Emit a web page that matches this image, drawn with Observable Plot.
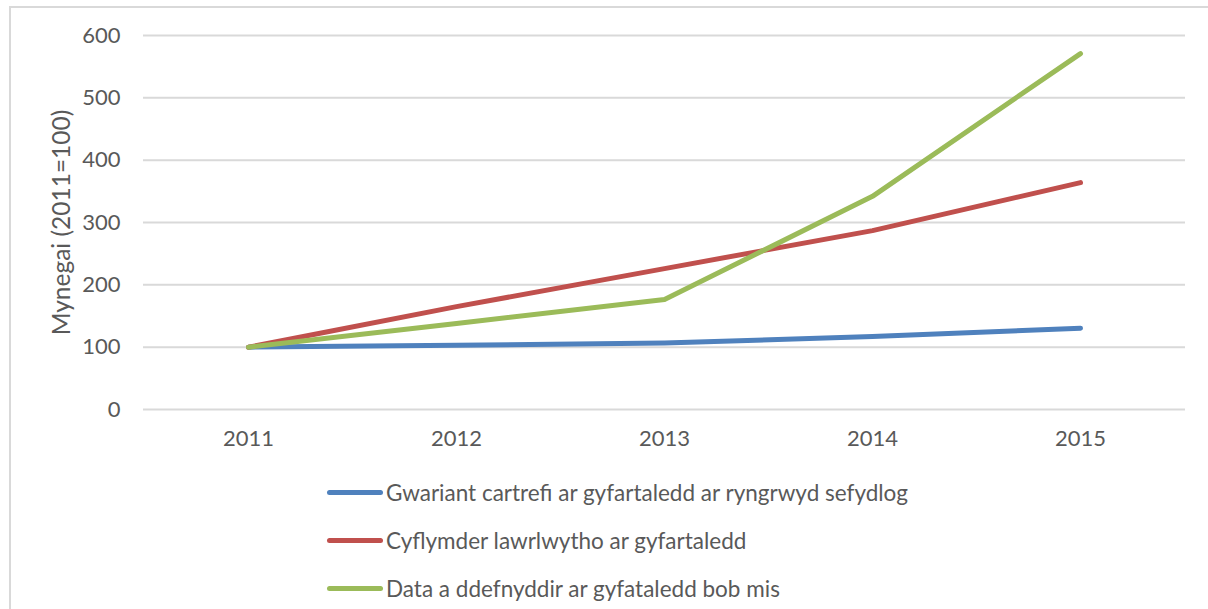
<!DOCTYPE html>
<html>
<head>
<meta charset="utf-8">
<script src="https://cdn.jsdelivr.net/npm/d3@7"></script>
<script src="https://cdn.jsdelivr.net/npm/@observablehq/plot@0.6"></script>
<style>
  html, body { margin: 0; padding: 0; background: #fff; }
  body { width: 1208px; height: 609px; position: relative; overflow: hidden; font-family: Lato, "Open Sans", sans-serif; color: #595959; }
  #frame { position: absolute; left: 9px; top: 6px; right: -5px; bottom: -5px; border-top: 2px solid #D9D9D9; border-left: 2px solid #D9D9D9; }
  #chart { position: absolute; left: 0; top: 0; }
  .leg { position: absolute; left: 327px; height: 26px; display: flex; align-items: center; font-size: 22.5px; white-space: nowrap; }
  .leg .sw { width: 56px; height: 5px; border-radius: 3px; margin-right: 3px; }
</style>
</head>
<body>
<div id="frame"></div>
<div id="chart"></div>
<div id="legend"></div>
<script>
const years = [2011, 2012, 2013, 2014, 2015];
const seriesNames = [
  "Gwariant cartrefi ar gyfartaledd ar ryngrwyd sefydlog",
  "Cyflymder lawrlwytho ar gyfartaledd",
  "Data a ddefnyddir ar gyfataledd bob mis"
];
const spending = [100, 103, 106.5, 117, 130.5];
const downloadSpeed = [100, 165, 226, 287, 364];
const dataUsed = [100, 138, 176.5, 342, 571];
const colors = ["#4F81BD", "#C0504D", "#9BBB59"];
const yTicks = [0, 100, 200, 300, 400, 500, 600];
const yLabel = "Mynegai (2011=100)";

const seriesValues = [spending, downloadSpeed, dataUsed];
const rows = [];
seriesNames.forEach((name, i) => {
  years.forEach((yr, j) => rows.push({series: name, year: yr, value: seriesValues[i][j]}));
});

const chart = Plot.plot({
  width: 1208,
  height: 460,
  marginLeft: 143,
  marginRight: 23,
  marginTop: 35,
  marginBottom: 51,
  style: {fontFamily: "Lato, 'Open Sans', sans-serif", color: "#595959", background: "transparent"},
  x: {type: "point", domain: years, padding: 0.5},
  y: {domain: [0, 600]},
  color: {domain: seriesNames, range: colors},
  marks: [
    Plot.ruleY(yTicks, {stroke: "#D9D9D9", strokeWidth: 2}),
    Plot.axisY({ticks: yTicks, tickSize: 0, tickPadding: 23, fontSize: 22, fill: "#595959", label: null}),
    Plot.axisX({tickSize: 0, tickPadding: 21, fontSize: 22, fill: "#595959", label: null, tickFormat: d => String(d)}),
    Plot.text([yLabel], {frameAnchor: "left", dx: -81, rotate: -90, text: d => d, fontSize: 24.5, fill: "#595959", textAnchor: "middle"}),
    Plot.line(rows, {x: "year", y: "value", z: "series", stroke: "series", strokeWidth: 5, strokeLinecap: "round", strokeLinejoin: "round"})
  ]
});
document.getElementById("chart").appendChild(chart);

const legend = document.getElementById("legend");
const legY = [492, 540, 588];
seriesNames.forEach((name, i) => {
  const el = document.createElement("div");
  el.className = "leg";
  el.style.top = (legY[i] - 13) + "px";
  const sw = document.createElement("div");
  sw.className = "sw";
  sw.style.background = colors[i];
  const tx = document.createElement("span");
  tx.textContent = name;
  el.appendChild(sw);
  el.appendChild(tx);
  legend.appendChild(el);
});
</script>
</body>
</html>
